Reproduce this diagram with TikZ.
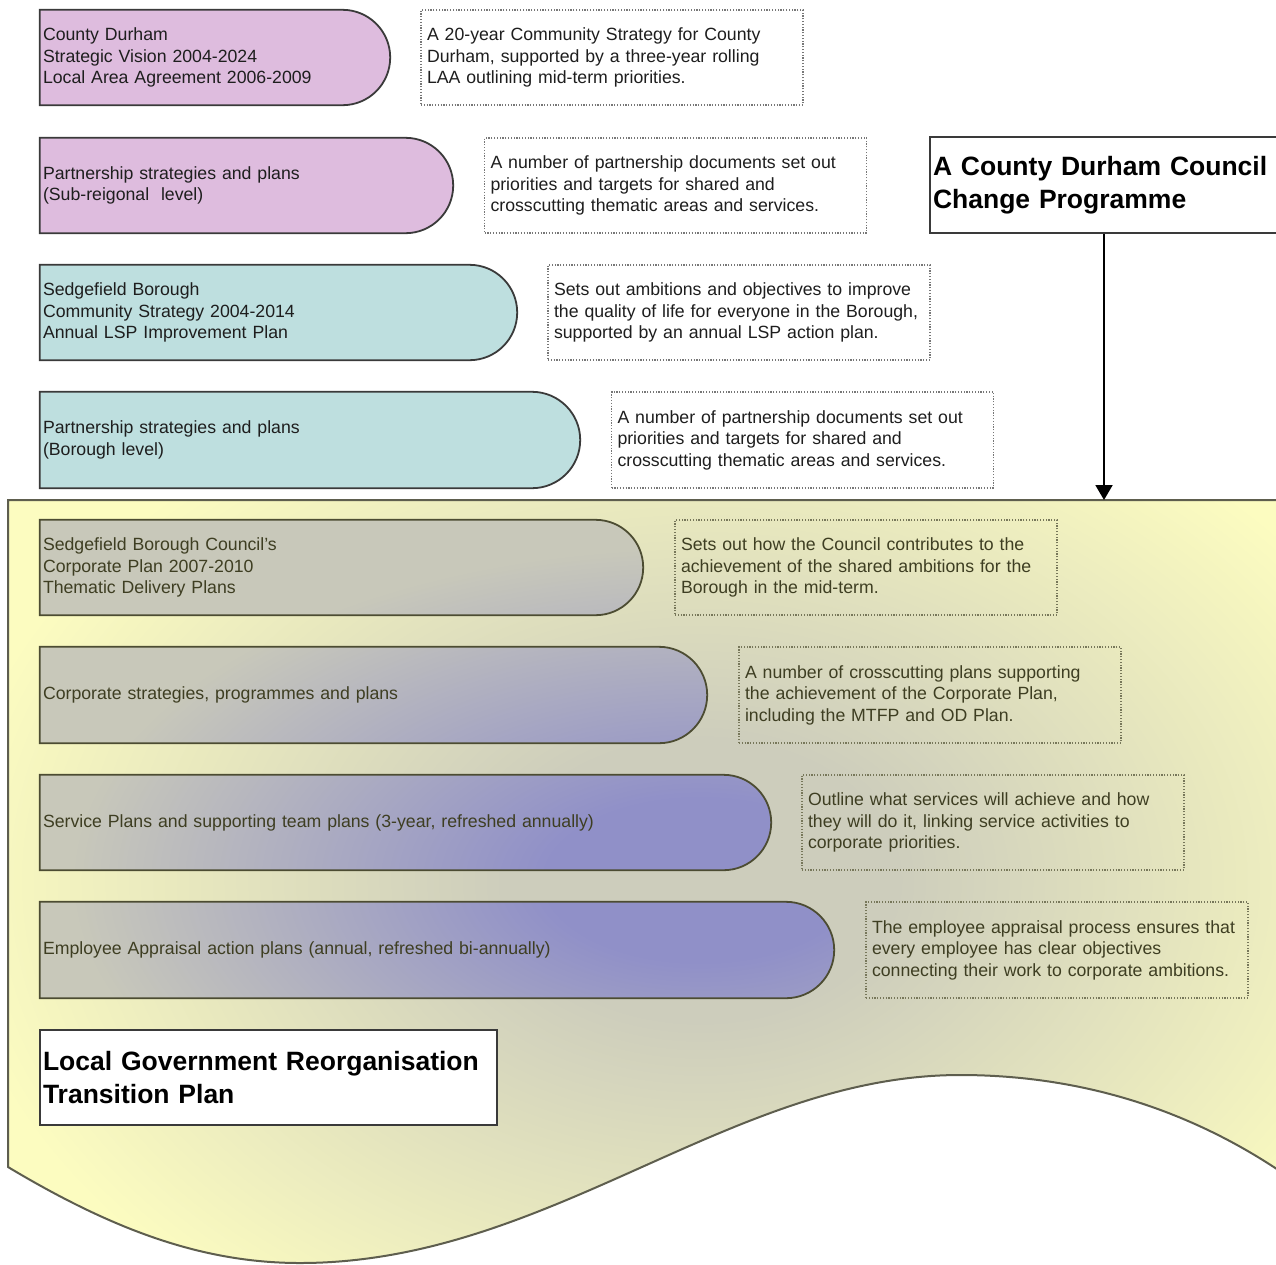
\documentclass[tikz,border=0pt]{standalone}
\usepackage{fontspec}
\setmainfont{Liberation Sans}
\usetikzlibrary{arrows.meta,calc}
\definecolor{cyel}{HTML}{FCFCC0}
\definecolor{cgray}{HTML}{CDCDBC}
\definecolor{cgbox}{HTML}{C8C8BA}
\definecolor{cpurp}{HTML}{9090C8}
\definecolor{cpink}{HTML}{DEBCDE}
\definecolor{cteal}{HTML}{BEDFDF}
\definecolor{txtdark}{HTML}{1E1E1E}
\definecolor{dline}{HTML}{3A3A3A}
\definecolor{olivetext}{HTML}{3E3E22}
\definecolor{oliveline}{HTML}{4C4C32}
\definecolor{dotgray}{HTML}{777777}
\definecolor{dotolive}{HTML}{77775A}
\definecolor{yline}{HTML}{5E5E4E}
\pgfdeclareradialshading{ybg}{\pgfpoint{0bp}{0bp}}{color(0bp)=(cgray); color(7bp)=(cgray); color(27bp)=(cyel); color(50bp)=(cyel)}
\pgfdeclareradialshading{pbx}{\pgfpoint{0bp}{0bp}}{color(0bp)=(cpurp); color(5.5bp)=(cpurp); color(22.5bp)=(cgbox); color(50bp)=(cgbox)}
\pgfdeclarelayer{bgA}
\pgfdeclarelayer{bgB}
\pgfsetlayers{bgA,bgB,main}
\newcommand\Dpath[1]{let \p1=(#1.north west), \p2=(#1.south east), \n1={(\y1-\y2)/2} in (\p1) -- ({\x2-\n1},\y1) .. controls ({\x2-0.4477*\n1},\y1) and (\x2,{\y1-0.4477*\n1}) .. (\x2,{\y1-\n1}) .. controls (\x2,{\y2+0.4477*\n1}) and ({\x2-0.4477*\n1},\y2) .. ({\x2-\n1},\y2) -- (\x1,\y2) -- cycle}
\newcommand\ypath{(1290,500) -- (8,500) -- (8,1167) .. controls (110,1228) and (200,1263) .. (300,1263) .. controls (550,1263) and (730,1075) .. (960,1075) .. controls (1090,1075) and (1200,1115) .. (1290,1178) -- cycle}
\tikzset{
  base/.style={font=\fontsize{17.7}{21.5}\selectfont, text=txtdark, align=left, inner ysep=0pt},
  dbox/.style={base, inner xsep=3pt, minimum height=95pt},
  ydbox/.style={dbox, text=olivetext},
  desc/.style={base, draw=dotgray, line width=1.2pt, dash pattern=on 1.2pt off 1.6pt,
    minimum width=382pt, minimum height=95pt, text width=370pt, inner xsep=6pt},
  ydesc/.style={desc, draw=dotolive, text=olivetext},
  titlebox/.style={font=\fontsize{26.5}{33}\selectfont\bfseries, text=black, align=left,
    draw=dline, line width=1.5pt, fill=white, inner xsep=3pt, inner ysep=0pt, minimum height=95pt},
  pinkD/.style={fill=cpink, draw=dline, line width=1.8pt},
  tealD/.style={fill=cteal, draw=dline, line width=1.8pt},
  yD/.style={draw=oliveline, line width=1.8pt},
  yborder/.style={draw=yline, line width=2pt},
  arr/.style={draw=black, line width=2pt, -{Triangle[width=17pt,length=15pt]}}
}
\begin{document}
\begin{tikzpicture}[x=1pt,y=-1pt]
\useasboundingbox (0,0) rectangle (1276,1264);
\clip (0,0) rectangle (1276,1264);
\begin{pgfonlayer}{bgA}
\fill[white] (0,0) rectangle (1276,1264);
\end{pgfonlayer}

% upper nodes
\node[dbox, text width=344pt, minimum width=350pt] (b1) at (215,57.5) {County Durham\\Strategic Vision 2004-2024\\Local Area Agreement 2006-2009};
\node[desc] (d1) at (612,57.5) {A 20-year Community Strategy for County\\Durham, supported by a three-year rolling\\LAA outlining mid-term priorities.};

\node[dbox, text width=407pt, minimum width=413pt] (b2) at (246.5,185.5) {Partnership strategies and plans\\(Sub-reigonal\ \ level)};
\node[desc] (d2) at (675.5,185.5) {A number of partnership documents set out\\priorities and targets for shared and\\crosscutting thematic areas and services.};

\node[dbox, text width=471pt, minimum width=477pt] (b3) at (278.5,312.5) {Sedgefield Borough\\Community Strategy 2004-2014\\Annual LSP Improvement Plan};
\node[desc] (d3) at (739,312.5) {Sets out ambitions and objectives to improve\\the quality of life for everyone in the Borough,\\supported by an annual LSP action plan.};

\node[dbox, text width=534pt, minimum width=540pt, minimum height=96pt] (b4) at (310,440) {Partnership strategies and plans\\(Borough level)};
\node[desc, minimum height=96pt] (d4) at (802.5,440) {A number of partnership documents set out\\priorities and targets for shared and\\crosscutting thematic areas and services.};

\begin{pgfonlayer}{bgB}
\path[pinkD] \Dpath{b1};
\path[pinkD] \Dpath{b2};
\path[tealD] \Dpath{b3};
\path[tealD] \Dpath{b4};
\end{pgfonlayer}

% change programme
\node[titlebox, text width=342pt, minimum width=348pt, minimum height=96pt] (chg) at (1104,185) {A County Durham Council\\Change Programme};
\coordinate (ytop) at (1104,500);
\draw[arr] (chg.south) -- (ytop);

% yellow region
\begin{pgfonlayer}{bgA}
\begin{scope}
\clip \ypath;
\shade[shading=ybg] (0,380) rectangle (1400,1380);
\end{scope}
\path[yborder] \ypath;
\end{pgfonlayer}

% lower nodes
\node[ydbox, text width=597pt, minimum width=603pt] (b5) at (341.5,567.5) {Sedgefield Borough Council’s\\Corporate Plan 2007-2010\\Thematic Delivery Plans};
\node[ydesc] (d5) at (866,567.5) {Sets out how the Council contributes to the\\achievement of the shared ambitions for the\\Borough in the mid-term.};

\node[ydbox, text width=661pt, minimum width=667pt, minimum height=96pt] (b6) at (373.5,695) {Corporate strategies, programmes and plans};
\node[ydesc, minimum height=96pt] (d6) at (930,695) {A number of crosscutting plans supporting\\the achievement of the Corporate Plan,\\including the MTFP and OD Plan.};

\node[ydbox, text width=725pt, minimum width=731pt] (b7) at (405.5,822.5) {Service Plans and supporting team plans (3-year, refreshed annually)};
\node[ydesc] (d7) at (993,822.5) {Outline what services will achieve and how\\they will do it, linking service activities to\\corporate priorities.};

\node[ydbox, text width=788pt, minimum width=794pt, minimum height=96pt] (b8) at (437,950) {Employee Appraisal action plans (annual, refreshed bi-annually)};
\node[ydesc, minimum height=96pt] (d8) at (1057,950) {The employee appraisal process ensures that\\every employee has clear objectives\\connecting their work to corporate ambitions.};

\begin{pgfonlayer}{bgB}
\foreach \b in {b5,b6,b7,b8}{
  \begin{scope}
  \clip \Dpath{\b};
  \shade[shading=pbx] (0,510) rectangle (1400,1250);
  \end{scope}
  \path[yD] \Dpath{\b};
}
\end{pgfonlayer}

\node[titlebox, text width=451pt, minimum width=457pt] (lgr) at (268.5,1077.5) {Local Government Reorganisation\\Transition Plan};
\end{tikzpicture}
\end{document}
